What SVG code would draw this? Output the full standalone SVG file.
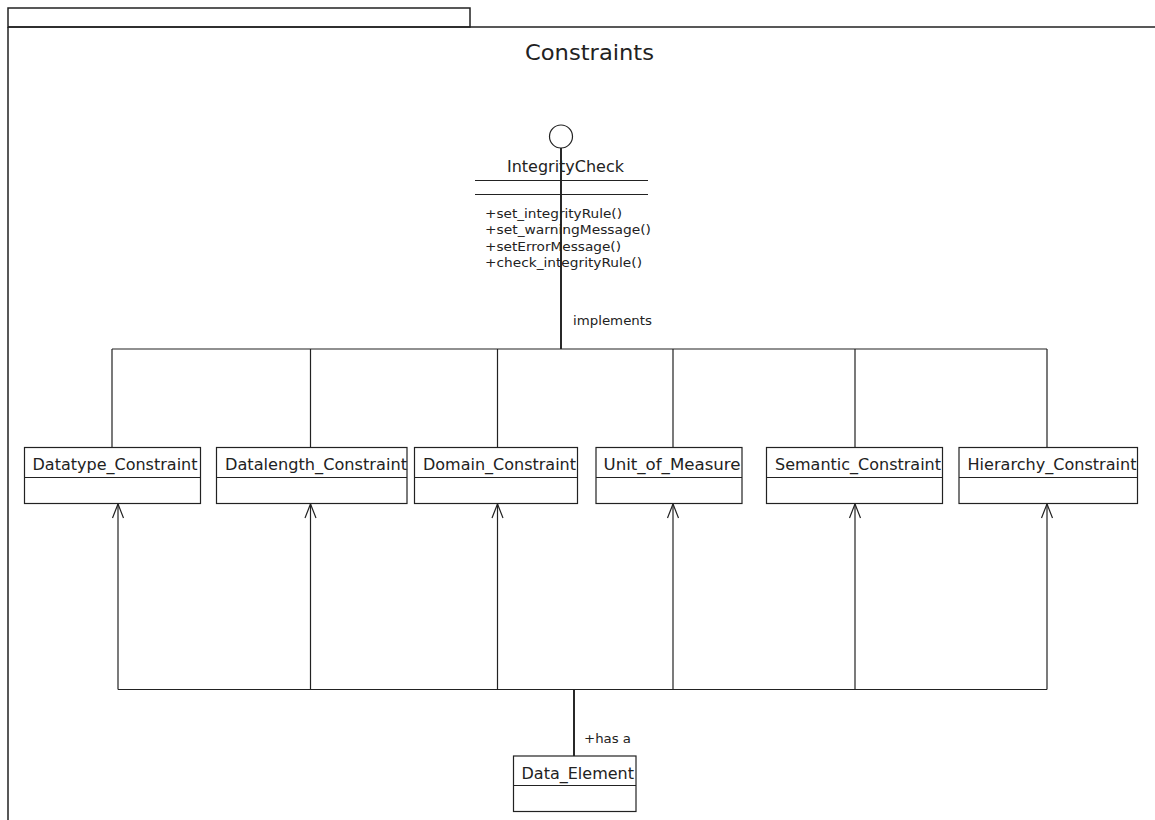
<svg xmlns="http://www.w3.org/2000/svg" width="1155" height="820" viewBox="0 0 1155 820">
  <defs>
    <style>
      .frame { fill: none; stroke: #222; stroke-width: 1.5; }
      .box { fill: #fff; stroke: #222; stroke-width: 1.2; }
      .sep { stroke: #222; stroke-width: 1.2; }
      .conn { fill: none; stroke: #222; stroke-width: 1.2; }
      .trunk { fill: none; stroke: #111; stroke-width: 1.8; }
      .lbl { font-family: "DejaVu Sans", "Liberation Sans", sans-serif; fill: #222; }
      .name { font-size: 15px; }
      .op { font-size: 12.5px; }
      .title { font-size: 21px; }
    </style>
    <marker id="open" viewBox="-16 -8 18 16" refX="0" refY="0" markerWidth="18" markerHeight="16" markerUnits="userSpaceOnUse" orient="auto" overflow="visible">
      <path d="M -14 -5.5 L 0 0 L -14 5.5" fill="none" stroke="#222" stroke-width="1.2"/>
    </marker>
  </defs>
  <rect width="1155" height="820" fill="#fff"/>

  <!-- package frame -->
  <g id="frame">
    <rect class="frame" x="8" y="8" width="462" height="19"/>
    <path class="frame" d="M 8 27 L 1155 27 M 8 27 L 8 820"/>
    <text class="lbl title" x="525" y="60" textLength="129" lengthAdjust="spacingAndGlyphs">Constraints</text>
  </g>

  <!-- connectors -->
  <g id="connectors">
    <line class="trunk" x1="561" y1="148" x2="561" y2="349"/>
    <line class="conn" x1="112" y1="349" x2="1047" y2="349"/>
    <path class="conn" d="M 112 349 V 447.5 M 310.5 349 V 447.5 M 497.5 349 V 447.5 M 673 349 V 447.5 M 855 349 V 447.5 M 1047 349 V 447.5"/>
    <line class="trunk" x1="574" y1="756" x2="574" y2="689"/>
    <line class="conn" x1="118" y1="689.5" x2="1047" y2="689.5"/>
    <line class="conn" x1="118" y1="689.5" x2="118" y2="504" marker-end="url(#open)"/>
    <line class="conn" x1="310.5" y1="689.5" x2="310.5" y2="504" marker-end="url(#open)"/>
    <line class="conn" x1="497.5" y1="689.5" x2="497.5" y2="504" marker-end="url(#open)"/>
    <line class="conn" x1="673" y1="689.5" x2="673" y2="504" marker-end="url(#open)"/>
    <line class="conn" x1="855" y1="689.5" x2="855" y2="504" marker-end="url(#open)"/>
    <line class="conn" x1="1047" y1="689.5" x2="1047" y2="504" marker-end="url(#open)"/>
    <text class="lbl op" x="573" y="325" textLength="79" lengthAdjust="spacingAndGlyphs">implements</text>
    <text class="lbl op" x="584" y="743" textLength="47" lengthAdjust="spacingAndGlyphs">+has a</text>
  </g>

  <!-- interface -->
  <g id="IntegrityCheck">
    <circle cx="561" cy="136.5" r="11.5" fill="#fff" stroke="#222" stroke-width="1.2"/>
    <text class="lbl name" x="507" y="172" textLength="117" lengthAdjust="spacingAndGlyphs">IntegrityCheck</text>
    <line class="sep" x1="475" y1="180.5" x2="648" y2="180.5"/>
    <line class="sep" x1="475" y1="194.5" x2="648" y2="194.5"/>
    <text class="lbl op" x="485" y="217.5" textLength="137" lengthAdjust="spacingAndGlyphs">+set_integrityRule()</text>
    <text class="lbl op" x="485" y="234" textLength="166" lengthAdjust="spacingAndGlyphs">+set_warningMessage()</text>
    <text class="lbl op" x="485" y="250.5" textLength="136" lengthAdjust="spacingAndGlyphs">+setErrorMessage()</text>
    <text class="lbl op" x="485" y="267" textLength="157" lengthAdjust="spacingAndGlyphs">+check_integrityRule()</text>
  </g>

  <!-- constraint classes -->
  <g id="Datatype_Constraint">
    <rect class="box" x="24.5" y="447.5" width="176" height="56"/>
    <line class="sep" x1="24.5" y1="477.5" x2="200.5" y2="477.5"/>
    <text class="lbl name" x="32.5" y="469.5" textLength="165" lengthAdjust="spacingAndGlyphs">Datatype_Constraint</text>
  </g>
  <g id="Datalength_Constraint">
    <rect class="box" x="216.5" y="447.5" width="190.5" height="56"/>
    <line class="sep" x1="216.5" y1="477.5" x2="407" y2="477.5"/>
    <text class="lbl name" x="225" y="469.5" textLength="182" lengthAdjust="spacingAndGlyphs">Datalength_Constraint</text>
  </g>
  <g id="Domain_Constraint">
    <rect class="box" x="414.5" y="447.5" width="163" height="56"/>
    <line class="sep" x1="414.5" y1="477.5" x2="577.5" y2="477.5"/>
    <text class="lbl name" x="423" y="469.5" textLength="153" lengthAdjust="spacingAndGlyphs">Domain_Constraint</text>
  </g>
  <g id="Unit_of_Measure">
    <rect class="box" x="596" y="447.5" width="146" height="56"/>
    <line class="sep" x1="596" y1="477.5" x2="742" y2="477.5"/>
    <text class="lbl name" x="603.5" y="469.5" textLength="137" lengthAdjust="spacingAndGlyphs">Unit_of_Measure</text>
  </g>
  <g id="Semantic_Constraint">
    <rect class="box" x="766.5" y="447.5" width="176" height="56"/>
    <line class="sep" x1="766.5" y1="477.5" x2="942.5" y2="477.5"/>
    <text class="lbl name" x="775" y="469.5" textLength="166" lengthAdjust="spacingAndGlyphs">Semantic_Constraint</text>
  </g>
  <g id="Hierarchy_Constraint">
    <rect class="box" x="959" y="447.5" width="178.5" height="56"/>
    <line class="sep" x1="959" y1="477.5" x2="1137.5" y2="477.5"/>
    <text class="lbl name" x="967.5" y="469.5" textLength="169" lengthAdjust="spacingAndGlyphs">Hierarchy_Constraint</text>
  </g>

  <!-- data element -->
  <g id="Data_Element">
    <rect class="box" x="513.5" y="756" width="122.5" height="55.5"/>
    <line class="sep" x1="513.5" y1="785.5" x2="636" y2="785.5"/>
    <text class="lbl name" x="521.5" y="778.5" textLength="112.5" lengthAdjust="spacingAndGlyphs">Data_Element</text>
  </g>
</svg>
